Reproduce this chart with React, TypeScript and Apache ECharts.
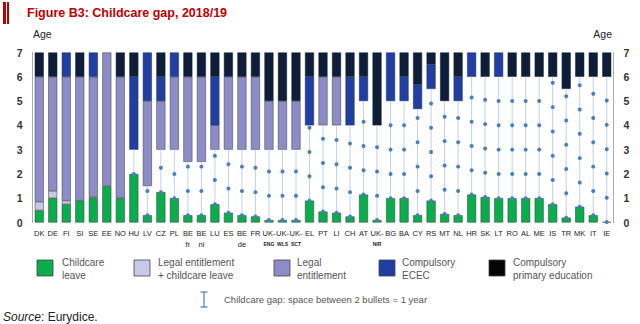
import React, { useEffect, useRef } from "react";
import * as echarts from "echarts";

const categories = ["DK","DE","FI","SI","SE","EE","NO","HU","LV","CZ","PL","BE fr","BE nl","LU","ES","BE de","FR","UK-ENG","UK-WLS","UK-SCT","EL","PT","LI","CH","AT","UK-NIR","BG","BA","CY","RS","MT","NL","HR","SK","LT","RO","AL","ME","IS","TR","MK","IT","IE"];
// segment heights in years (stacked from 0 to 7)
const childcareLeave = [0.5,1.0,0.75,0.9,1.0,1.5,1.0,2.0,0.3,1.25,1.0,0.3,0.3,0.75,0.4,0.3,0.25,0.1,0.1,0.1,0.9,0.45,0.4,0.25,1.15,0.1,1.0,1.0,0.3,0.9,0.35,0.3,1.15,1.05,1.0,1.0,1.0,1.0,0.75,0.2,0.65,0.3,0.02];
const legalPlusLeave = [0.35,0.3,0.15,0,0.05,0,0,0,0,0,0,0,0,0,0,0,0,0,0,0,0,0,0,0,0,0,0,0,0,0,0,0,0,0,0,0,0,0,0,0,0,0,0];
const legalEntitlement = [5.15,4.7,5.1,5.1,4.95,5.5,5.0,0,3.5,2,3,3.5,3.5,1,3,3,3,2,2,2,0,2,2,0,0,0,0,0,0,0,0,0,0,0,0,0,0,0,0,0,0,0,0];
const compulsoryEcec = [0,0,1,0,1,0,0,3,2,1,1,0,0,2,0,0,0,0,0,0,2,0,0,2,1,0,2,1,1,1,0,1,1,0,1,0,0,0,0,0,0,0,0];
const compulsoryPrimary = [1,1,0,1,0,0,1,1,0,1,0,1,1,1,1,1,1,2,2,2,1,1,1,1,1,3,0,1,1.33,0.5,2,1,0,1,0,1,1,1,1,1.5,1,1,1];
const yTicks = [0,1,2,3,4,5,6,7];

const C = {
  leave: "#0aad4c",
  legalLeave: "#c8c8ea",
  legal: "#8c8dc7",
  ecec: "#213fa0",
  primary: "#0f1e38",
};

const FONT = "'Liberation Sans', Arial, sans-serif";

export default function App() {
  const ref = useRef<HTMLDivElement>(null);
  useEffect(() => {
    document.body.style.margin = "0";
    const chart = echarts.init(ref.current!, null, { renderer: "svg" });
    const gapStart = childcareLeave.map((v, i) => v + legalPlusLeave[i]);
    const upperStart = categories.map((_, i) => 7 - legalEntitlement[i] - compulsoryEcec[i] - compulsoryPrimary[i]);
    const gap = gapStart.map((s, i) => +(upperStart[i] - s).toFixed(3));
    const nz = (a: number[]) => a.map((v) => (v > 0 ? v : "-"));
    const barBase = { type: "bar", stack: "a", barWidth: 9, xAxisIndex: 0, yAxisIndex: 0 };
    const bs = (color: string) => ({ color, borderColor: "#3a3a3a", borderWidth: 0.5 });

    const legendItems = [
      { x: 37, tx: 62, color: C.leave, t: "Childcare\nleave" },
      { x: 134, tx: 158, color: C.legalLeave, t: "Legal entitlement\n+ childcare leave" },
      { x: 274, tx: 297, color: C.legal, t: "Legal\nentitlement" },
      { x: 379, tx: 402, color: C.ecec, t: "Compulsory\nECEC" },
      { x: 489, tx: 513, color: "#050505", t: "Compulsory\nprimary education" },
    ];
    const graphics: any[] = [
      { type: "rect", shape: { x: 3, y: 2, width: 3, height: 22 }, style: { fill: "#c00000" } },
      { type: "rect", shape: { x: 7, y: 2, width: 2, height: 22 }, style: { fill: "#c00000" } },
      { type: "text", x: 27, y: 13, style: { text: "Figure B3: Childcare gap, 2018/19", fill: "#c00000", font: `bold 12.5px ${FONT}`, verticalAlign: "middle" } },
      { type: "text", x: 33, y: 34, style: { text: "Age", fill: "#222", font: `10.5px ${FONT}`, verticalAlign: "middle" } },
      { type: "text", x: 612, y: 34, style: { text: "Age", fill: "#222", font: `10.5px ${FONT}`, verticalAlign: "middle", align: "right" } },
      { type: "line", shape: { x1: 204, y1: 292, x2: 204, y2: 307 }, style: { stroke: "#4a7ebb", lineWidth: 1.2 } },
      { type: "line", shape: { x1: 200.5, y1: 292, x2: 207.5, y2: 292 }, style: { stroke: "#4a7ebb", lineWidth: 1.2 } },
      { type: "line", shape: { x1: 200.5, y1: 307, x2: 207.5, y2: 307 }, style: { stroke: "#4a7ebb", lineWidth: 1.2 } },
      { type: "text", x: 224, y: 299, style: { text: "Childcare gap: space between 2 bullets = 1 year", fill: "#555", font: `9.5px ${FONT}`, verticalAlign: "middle" } },
      { type: "text", x: 3, y: 317, style: { text: "{i|Source}{n|: Eurydice.}", fill: "#222", verticalAlign: "middle", rich: { i: { font: `italic 12px ${FONT}`, fill: "#222" }, n: { font: `12px ${FONT}`, fill: "#222" } } } },
    ];
    legendItems.forEach((it) => {
      graphics.push({ type: "rect", shape: { x: it.x, y: 260, width: 16, height: 16 }, style: { fill: it.color, stroke: "#444", lineWidth: 0.8 } });
      graphics.push({ type: "text", x: it.tx, y: 268.5, style: { text: it.t, fill: "#555", font: `10px ${FONT}`, lineHeight: 13, verticalAlign: "middle" } });
    });

    chart.setOption({
      animation: false,
      grid: { left: 32.5, right: 26.5, top: 52.5, bottom: 101.5 },
      xAxis: {
        type: "category",
        data: categories,
        axisLine: { show: false },
        axisTick: { show: false },
        axisLabel: {
          interval: 0,
          margin: 5,
          formatter: (v: string) => {
            if (v.startsWith("UK-")) return `{a|UK-}\n{s|${v.slice(3)}}`;
            if (v.startsWith("BE ")) return `{a|BE}\n{b|${v.slice(3)}}`;
            return `{a|${v}}`;
          },
          rich: {
            a: { fontFamily: FONT, fontSize: 7.5, color: "#222", lineHeight: 11 },
            b: { fontFamily: FONT, fontSize: 7.5, color: "#222", lineHeight: 11 },
            s: { fontFamily: FONT, fontSize: 5, fontWeight: "bold", color: "#222", lineHeight: 11 },
          },
        },
      },
      yAxis: [0, 1].map((k) => ({
        type: "value",
        position: k === 0 ? "left" : "right",
        min: 0,
        max: 7,
        interval: 1,
        splitLine: { show: false },
        axisTick: { show: false },
        axisLine: { show: true, lineStyle: { color: "#aaa", width: 1 } },
        axisLabel: { margin: 10, fontFamily: FONT, fontSize: 10.5, fontWeight: "bold", color: "#333", formatter: (v: number) => (yTicks.includes(v) ? String(v) : "") },
      })),
      series: [
        { ...barBase, name: "Childcare leave", data: nz(childcareLeave), itemStyle: bs(C.leave) },
        { ...barBase, name: "Legal entitlement + childcare leave", data: nz(legalPlusLeave), itemStyle: bs(C.legalLeave) },
        { ...barBase, name: "gap", data: gap.map((v) => (v > 0 ? v : "-")), itemStyle: { color: "transparent", borderWidth: 0 }, silent: true },
        { ...barBase, name: "Legal entitlement", data: nz(legalEntitlement), itemStyle: bs(C.legal) },
        { ...barBase, name: "Compulsory ECEC", data: nz(compulsoryEcec), itemStyle: { color: C.ecec, borderColor: "#1a2a60", borderWidth: 0.5 } },
        { ...barBase, name: "Compulsory primary education", data: nz(compulsoryPrimary), itemStyle: { color: C.primary, borderColor: C.primary, borderWidth: 0.5 } },
        {
          type: "custom",
          name: "Childcare gap",
          z: 5,
          silent: true,
          data: categories.map((_, i) => [i, gapStart[i], upperStart[i]]),
          encode: { x: 0, y: [1, 2] },
          renderItem: (params: any, api: any) => {
            const x = api.value(0);
            const s = api.value(1);
            const e = api.value(2);
            if (e - s < 0.05) return null;
            const p0 = api.coord([x, s]);
            const p1 = api.coord([x, e]);
            const children: any[] = [
              { type: "line", shape: { x1: p0[0], y1: p0[1], x2: p1[0], y2: p1[1] }, style: { stroke: "#c3d1e6", lineWidth: 1 } },
            ];
            for (let v = s; v < e - 0.08; v += 1) {
              const p = api.coord([x, v]);
              children.push({ type: "circle", shape: { cx: p[0], cy: p[1], r: 2 }, style: { fill: "#4a7ebb" } });
            }
            return { type: "group", children };
          },
        },
      ],
      graphic: graphics,
    });
    return () => chart.dispose();
  }, []);
  return <div ref={ref} style={{ width: 640, height: 324 }} />;
}
